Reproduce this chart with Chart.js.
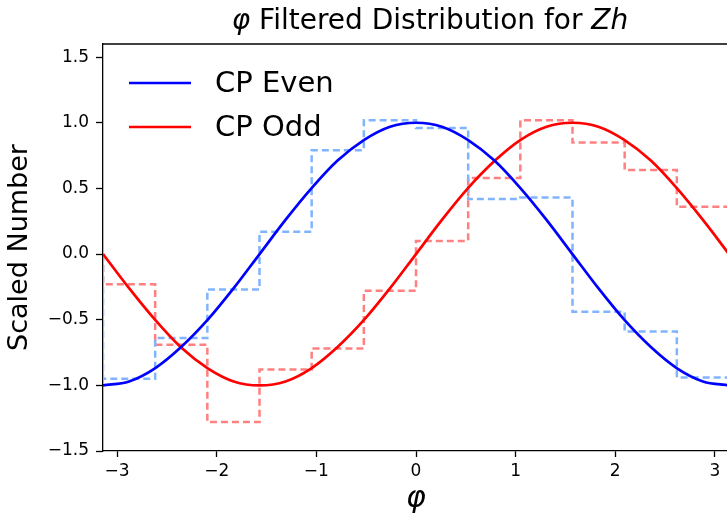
<!DOCTYPE html>
<html>
<head>
<meta charset="utf-8">
<script src="https://cdn.jsdelivr.net/npm/chart.js@4.4.1/dist/chart.umd.min.js"></script>
<style>
  html, body { margin: 0; padding: 0; background: #fff; overflow: hidden; }
  #wrap { width: 729px; height: 517px; }
</style>
</head>
<body>
<div id="wrap"><canvas id="myChart" width="729" height="517"></canvas></div>
<script>
// curve samples (phi, value)
const phiGrid = [-3.1416, -2.88, -2.62, -2.36, -2.09, -1.83, -1.57, -1.31, -1.05, -0.79, -0.52, -0.26,
                 0, 0.26, 0.52, 0.79, 1.05, 1.31, 1.57, 1.83, 2.09, 2.36, 2.62, 2.88, 3.1416];
const cpEven = [-1.00, -0.97, -0.87, -0.71, -0.50, -0.26, 0.00, 0.26, 0.50, 0.71, 0.87, 0.97,
                1.00, 0.97, 0.87, 0.71, 0.50, 0.26, 0.00, -0.26, -0.50, -0.71, -0.87, -0.97, -1.00];
const cpOdd = [0.00, -0.26, -0.50, -0.71, -0.87, -0.97, -1.00, -0.97, -0.87, -0.71, -0.50, -0.26,
               0.00, 0.26, 0.50, 0.71, 0.87, 0.97, 1.00, 0.97, 0.87, 0.71, 0.50, 0.26, 0.00];

// filtered histograms, 12 bins
const binEdges = [-3.1416, -2.618, -2.0944, -1.5708, -1.0472, -0.5236, 0, 0.5236, 1.0472, 1.5708, 2.0944, 2.618, 3.1416];
const evenHist = [-0.95, -0.64, -0.27, 0.17, 0.79, 1.02, 0.96, 0.42, 0.43, -0.44, -0.59, -0.94];
const oddHist = [-0.23, -0.69, -1.28, -0.88, -0.72, -0.28, 0.10, 0.58, 1.02, 0.85, 0.64, 0.36];

const xTicks = [-3, -2, -1, 0, 1, 2, 3];
const yTicks = [-1.5, -1.0, -0.5, 0.0, 0.5, 1.0, 1.5];

const FONT = "'DejaVu Sans', 'Liberation Sans', sans-serif";

toPoints = function (xs, ys) {
    return xs.map(function (x, i) { return {x: x, y: ys[i]}; });
}

// outline of a step histogram: starts and ends on zero
stepPoints = function (edges, vals) {
    let pts = [{x: edges[0], y: 0}];
    vals.forEach(function (v, i) { pts.push({x: edges[i], y: v}); });
    pts.push({x: edges[edges.length - 1], y: 0});
    return pts;
}

minus = function (s) { return s.replace('-', '\u2212'); }

const customLegend = {
    id: 'customLegend',
    afterDatasetsDraw(chart) {
        const ctx = chart.ctx;
        const items = chart.data.datasets.filter(function (d) { return d.inLegend; });
        ctx.save();
        ctx.font = '29px ' + FONT;
        ctx.textBaseline = 'middle';
        ctx.fillStyle = '#000';
        items.forEach(function (d, i) {
            const y = 83 + i * 44;
            ctx.strokeStyle = d.borderColor;
            ctx.lineWidth = 2.7;
            ctx.beginPath();
            ctx.moveTo(129, y);
            ctx.lineTo(191, y);
            ctx.stroke();
            ctx.fillText(d.label, 215, y + 1);
        });
        ctx.restore();
    }
};

const frameAndTitle = {
    id: 'frameAndTitle',
    afterDraw(chart) {
        const ctx = chart.ctx;
        const a = chart.chartArea;
        ctx.save();
        ctx.strokeStyle = '#000';
        ctx.lineWidth = 1.3;
        ctx.beginPath();
        ctx.moveTo(a.left, a.top);
        ctx.lineTo(a.right, a.top);
        ctx.stroke();

        // title with italic pieces
        const parts = [
            {t: '\u03c6', f: 'italic 28px ' + FONT},
            {t: ' Filtered Distribution for ', f: '28px ' + FONT},
            {t: 'Zh', f: 'italic 28px ' + FONT}
        ];
        let total = 0;
        parts.forEach(function (p) { ctx.font = p.f; p.w = ctx.measureText(p.t).width; total += p.w; });
        let x = 430 - total / 2;
        ctx.fillStyle = '#000';
        ctx.textBaseline = 'alphabetic';
        parts.forEach(function (p) { ctx.font = p.f; ctx.fillText(p.t, x, 29); x += p.w; });
        ctx.restore();
    }
};

new Chart("myChart", {
    type: "line",
    data: {
        datasets: [
            {
                label: 'CP Even',
                inLegend: true,
                data: toPoints(phiGrid, cpEven),
                borderColor: '#0000ff',
                borderWidth: 2.7,
                pointRadius: 0,
                cubicInterpolationMode: 'monotone'
            },
            {
                label: 'CP Odd',
                inLegend: true,
                data: toPoints(phiGrid, cpOdd),
                borderColor: '#ff0000',
                borderWidth: 2.7,
                pointRadius: 0,
                cubicInterpolationMode: 'monotone'
            },
            {
                label: 'CP Even filtered',
                data: stepPoints(binEdges, evenHist),
                borderColor: '#80b4ff',
                borderWidth: 2.5,
                borderDash: [7, 4],
                pointRadius: 0,
                stepped: 'before'
            },
            {
                label: 'CP Odd filtered',
                data: stepPoints(binEdges, oddHist),
                borderColor: '#ff8080',
                borderWidth: 2.5,
                borderDash: [7, 4],
                pointRadius: 0,
                stepped: 'before'
            }
        ]
    },
    options: {
        responsive: false,
        animation: false,
        devicePixelRatio: 1,
        layout: {padding: {top: 44, left: 0, right: 0, bottom: 0}},
        plugins: {
            legend: {display: false},
            title: {display: false},
            tooltip: {enabled: false}
        },
        scales: {
            x: {
                type: 'linear',
                min: -3.1416,
                max: 3.1416,
                afterBuildTicks: function (s) { s.ticks = xTicks.map(function (v) { return {value: v}; }); },
                afterFit: function (s) { s.height = 66; },
                ticks: {
                    color: '#000',
                    font: {family: FONT, size: 17},
                    padding: 4,
                    maxRotation: 0,
                    callback: function (v) { return minus(String(v)); }
                },
                grid: {drawOnChartArea: false, drawTicks: true, tickLength: 6, tickColor: '#000', tickWidth: 1.3},
                border: {display: true, color: '#000', width: 1.3},
                title: {
                    display: true,
                    text: '\u03c6',
                    color: '#000',
                    font: {family: FONT, size: 30, style: 'italic'},
                    padding: {top: 0, bottom: 0}
                }
            },
            y: {
                type: 'linear',
                min: -1.5,
                max: 1.6,
                afterBuildTicks: function (s) { s.ticks = yTicks.map(function (v) { return {value: v}; }); },
                afterFit: function (s) { s.width = 103; },
                ticks: {
                    color: '#000',
                    font: {family: FONT, size: 17},
                    padding: 7,
                    callback: function (v) { return minus(v.toFixed(1)); }
                },
                grid: {drawOnChartArea: false, drawTicks: true, tickLength: 7, tickColor: '#000', tickWidth: 1.3},
                border: {display: true, color: '#000', width: 1.3},
                title: {
                    display: true,
                    text: 'Scaled Number',
                    color: '#000',
                    font: {family: FONT, size: 27},
                    padding: {top: 4, bottom: 0}
                }
            }
        }
    },
    plugins: [customLegend, frameAndTitle]
});
</script>
</body>
</html>
